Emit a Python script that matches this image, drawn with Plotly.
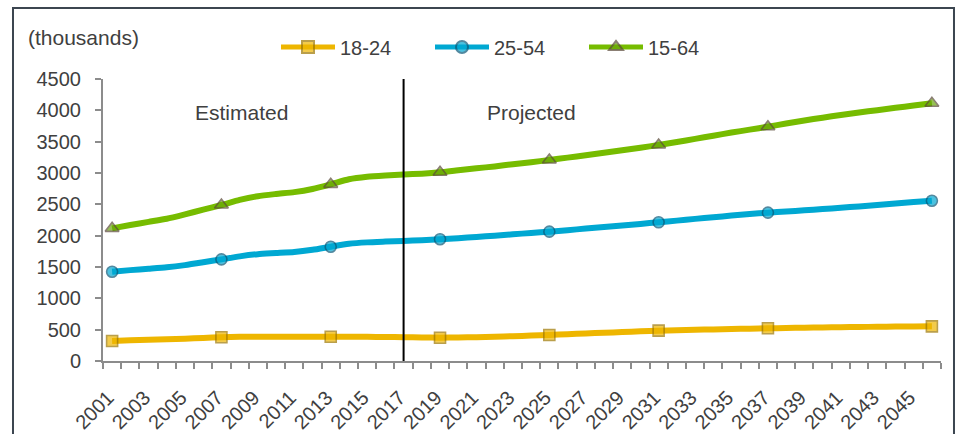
import plotly.graph_objects as go

# Annual series, thousands of people
years = list(range(2001, 2047))

age_18_24 = [319, 330, 340, 348, 357, 368, 378, 385, 388, 388,
             386, 386, 388, 388, 386, 383, 380, 376, 372, 375,
             380, 387, 396, 405, 415, 427, 439, 451, 462, 473,
             484, 491, 498, 504, 510, 516, 522, 527, 532, 536,
             540, 543, 546, 549, 551, 553]

age_25_54 = [1425, 1450, 1472, 1495, 1530, 1575, 1622, 1670, 1705, 1722,
             1740, 1775, 1824, 1870, 1893, 1905, 1915, 1928, 1942, 1960,
             1980, 2000, 2022, 2043, 2064, 2088, 2113, 2138, 2163, 2188,
             2213, 2240, 2268, 2295, 2320, 2345, 2367, 2386, 2405, 2425,
             2445, 2467, 2490, 2513, 2536, 2558]

age_15_64 = [2117, 2170, 2220, 2270, 2340, 2415, 2489, 2570, 2630, 2665,
             2695, 2745, 2819, 2900, 2940, 2960, 2975, 2990, 3012, 3045,
             3075, 3105, 3140, 3172, 3207, 3245, 3283, 3322, 3362, 3404,
             3447, 3495, 3545, 3595, 3645, 3692, 3739, 3790, 3838, 3883,
             3925, 3965, 4003, 4040, 4077, 4112]

marker_years = [2001, 2007, 2013, 2019, 2025, 2031, 2037, 2046]
tick_years = list(range(2001, 2046, 2))
split_year = 2017

series = [
    ("18-24", age_18_24, "#EEB600", "#EEB600", "#9E7700", "square", 11),
    ("25-54", age_25_54, "#00A8D2", "#00A8D2", "#0A5878", "circle", 11),
    ("15-64", age_15_64, "#76BC00", "#6AA80A", "#5B4A3A", "triangle-up", 12),
]

TEXT = "#404040"
AXIS = "#8C8C8C"
FONT = "Liberation Sans, Arial, sans-serif"

fig = go.Figure()
for name, vals, lc, fc, bc, sym, ms in series:
    sizes = [ms if y in marker_years else 0 for y in years]
    widths = [1.6 if y in marker_years else 0 for y in years]
    fig.add_trace(go.Scatter(
        x=years, y=vals, name=name, mode="lines+markers",
        line=dict(color=lc, width=6, shape="spline", smoothing=0.6),
        marker=dict(symbol=sym, size=sizes, color=fc,
                    line=dict(color=bc, width=widths)),
    ))

# divider between estimated and projected years
fig.add_shape(type="line", xref="x", yref="y", x0=split_year, x1=split_year,
              y0=0, y1=4500, line=dict(color="#000000", width=2))

# outer frame
fig.add_shape(type="rect", xref="paper", yref="paper",
              x0=-0.1074, x1=1.0155, y0=-0.35, y1=1.2518,
              line=dict(color="#3C4650", width=2), layer="below")

fig.add_annotation(text="Estimated", xref="paper", yref="paper",
                   x=0.1647, y=0.881, xanchor="center", yanchor="middle",
                   showarrow=False,
                   font=dict(size=21, color=TEXT, family=FONT))
fig.add_annotation(text="Projected", xref="paper", yref="paper",
                   x=0.5116, y=0.881, xanchor="center", yanchor="middle",
                   showarrow=False,
                   font=dict(size=21, color=TEXT, family=FONT))
fig.add_annotation(text="(thousands)", xref="paper", yref="paper",
                   x=-0.092, y=1.146, xanchor="left", yanchor="middle",
                   showarrow=False,
                   font=dict(size=21, color=TEXT, family=FONT))

fig.update_layout(
    width=959, height=434,
    margin=dict(l=103, r=18, t=79, b=73, autoexpand=False),
    paper_bgcolor="white", plot_bgcolor="white",
    font=dict(family=FONT, size=20, color=TEXT),
    showlegend=True,
    legend=dict(orientation="h", xref="container", yref="container",
                x=276 / 959, xanchor="left",
                y=1 - 47 / 434, yanchor="middle", itemsizing="constant",
                itemwidth=54, entrywidth=85, bgcolor="rgba(0,0,0,0)",
                font=dict(size=20, color=TEXT, family=FONT)),
    xaxis=dict(range=[2000.5, 2046.5], tickmode="array", tickvals=tick_years,
               ticktext=[str(y) for y in tick_years], tickangle=-45,
               ticks="", showgrid=False, zeroline=False,
               showline=True, linecolor=AXIS, linewidth=2,
               ticklabelstandoff=15, ticklabelshift=-4,
               tickfont=dict(size=20, color=TEXT),
               minor=dict(tickmode="array",
                          tickvals=[y - 0.5 for y in years] + [2046.5],
                          ticks="outside", ticklen=6, tickcolor=AXIS,
                          tickwidth=2, showgrid=False)),
    yaxis=dict(range=[0, 4500], dtick=500, tick0=0, ticks="outside",
               ticklen=6, tickcolor=AXIS, tickwidth=2,
               showgrid=False, zeroline=False, showline=True,
               linecolor=AXIS, linewidth=2, ticklabelstandoff=10,
               tickfont=dict(size=20, color=TEXT)),
)

fig.write_html("out.html")
